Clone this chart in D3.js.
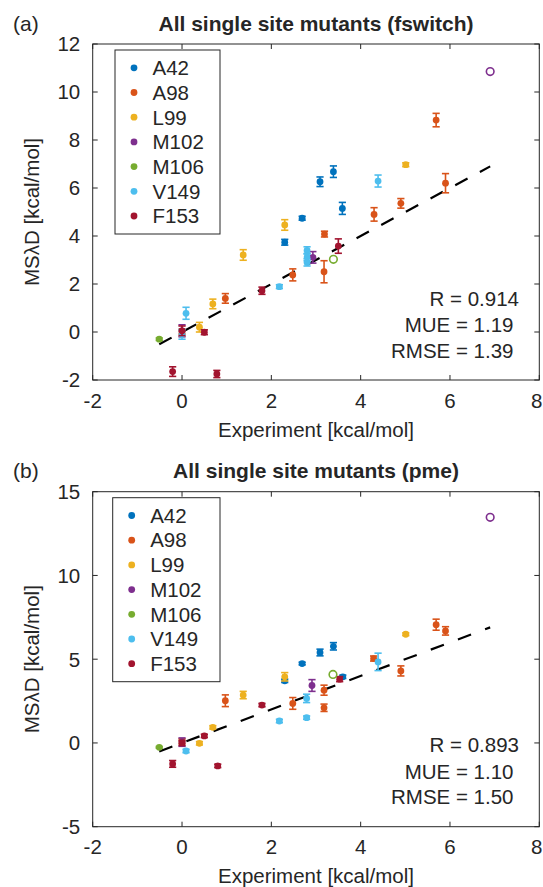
<!DOCTYPE html>
<html>
<head>
<meta charset="utf-8">
<script src="https://cdn.jsdelivr.net/npm/d3@7"></script>
<style>
  body { margin: 0; background: #fff; }
  text { font-family: "Liberation Sans", Arial, Helvetica, sans-serif; fill: #262626; }
</style>
</head>
<body>
<div id="svg"></div>
<script>
// mutantes y colores (orden de la leyenda)
const mutants = ["A42", "A98", "L99", "M102", "M106", "V149", "F153"];
const colors = ["#0072BD", "#D95319", "#EDB120", "#7E2F8E", "#77AC30", "#4DBEEE", "#A2142F"];

const xTicks = [-2, 0, 2, 4, 6, 8];
const yTicksA = [-2, 0, 2, 4, 6, 8, 10, 12];
const yTicksB = [-5, 0, 5, 10, 15];

// panel (a) fswitch: [experimento, MSλD, error]
const aA42 = [[2.30, 3.74, 0.12], [2.69, 4.74, 0.08], [3.09, 6.26, 0.2], [3.39, 6.68, 0.24], [3.59, 5.15, 0.25]];
const aA98 = [[0, 0.02, 0.1], [0.97, 1.40, 0.2], [2.48, 2.38, 0.25], [3.19, 4.08, 0.12], [3.18, 2.51, 0.46],
              [4.30, 4.90, 0.28], [4.90, 5.36, 0.2], [5.69, 8.83, 0.28], [5.90, 6.20, 0.4]];
const aL99 = [[0.39, 0.20, 0.2], [0.69, 1.17, 0.2], [1.37, 3.21, 0.22], [2.30, 4.46, 0.22], [5.01, 6.97, 0.08]];
const aM102 = [[0, 0.05, 0.25], [2.93, 3.11, 0.24]];
const aM106 = [[-0.51, -0.30, 0.05]];
const aV149 = [[0, -0.1, 0.2], [0.09, 0.78, 0.25], [2.18, 1.89, 0.08], [2.80, 3.40, 0.15], [2.80, 3.12, 0.15],
               [2.80, 2.90, 0.15], [4.39, 6.29, 0.25]];
const aF153 = [[-0.21, -1.65, 0.2], [0, 0.05, 0.2], [0.50, -0.01, 0.1], [0.78, -1.75, 0.15], [1.79, 1.72, 0.15], [3.50, 3.58, 0.3]];
// puntos abiertos (sin barra de error): [experimento, MSλD, indice mutante]
const aOpen = [[6.90, 10.85, 3], [3.39, 3.03, 4]];
const statsA = ["R = 0.914", "MUE = 1.19", "RMSE = 1.39"];

// panel (b) pme
const bA42 = [[2.30, 3.71, 0.1], [2.69, 4.74, 0.08], [3.09, 5.40, 0.2], [3.39, 5.77, 0.22], [3.60, 3.95, 0.1]];
const bA98 = [[0, 0.1, 0.15], [0.97, 2.52, 0.35], [2.48, 2.36, 0.35], [3.18, 3.15, 0.3], [3.18, 2.10, 0.22],
              [4.29, 5.04, 0.15], [4.90, 4.30, 0.3], [5.69, 7.06, 0.33], [5.90, 6.69, 0.25]];
const bL99 = [[0.39, -0.02, 0.1], [0.69, 0.93, 0.1], [1.37, 2.86, 0.22], [2.30, 3.95, 0.25], [5.01, 6.49, 0.08]];
const bM102 = [[0, 0.05, 0.25], [2.91, 3.43, 0.35]];
const bM106 = [[-0.51, -0.26, 0.05]];
const bV149 = [[0.09, -0.48, 0.1], [2.18, 1.31, 0.1], [2.79, 2.66, 0.25], [2.79, 1.51, 0.1], [4.39, 4.84, 0.52]];
const bF153 = [[-0.21, -1.25, 0.2], [0, 0.0, 0.15], [0.50, 0.42, 0.1], [0.80, -1.37, 0.1], [1.79, 2.26, 0.1], [3.53, 3.81, 0.15]];
const bOpen = [[6.90, 13.47, 3], [3.38, 4.09, 4]];
const statsB = ["R = 0.893", "MUE = 1.10", "RMSE = 1.50"];

// linea y = x
const identity = [-0.51, 6.9];

const width = 543;
const height = 887;
const axisColor = "#262626";
const fs = 20.5;

const svg = d3.select("#svg").append("svg")
    .attr("width", width)
    .attr("height", height);

const panels = [
    { label: "(a)", title: "All single site mutants (fswitch)", top: 44, bottom: 380, yDomain: [-2, 12], yTicks: yTicksA,
      series: [aA42, aA98, aL99, aM102, aM106, aV149, aF153], open: aOpen, stats: statsA, legendX: 115, dash: "14,14" },
    { label: "(b)", title: "All single site mutants (pme)", top: 491.7, bottom: 826.7, yDomain: [-5, 15], yTicks: yTicksB,
      series: [bA42, bA98, bL99, bM102, bM106, bV149, bF153], open: bOpen, stats: statsB, legendX: 112.7, dash: "14,15" }
];

const left = 92.7, right = 539.3;
const x = d3.scaleLinear().domain([-2, 8]).range([left, right]);

panels.forEach((p) => {
    const y = d3.scaleLinear().domain(p.yDomain).range([p.bottom, p.top]);
    const g = svg.append("g");
    const tick = 5;

    // caja del eje
    g.append("rect")
        .attr("x", left).attr("y", p.top)
        .attr("width", right - left).attr("height", p.bottom - p.top)
        .attr("fill", "none").attr("stroke", axisColor).attr("stroke-width", 1);

    // ticks hacia dentro en los cuatro lados
    xTicks.forEach((t) => {
        g.append("line").attr("x1", x(t)).attr("x2", x(t)).attr("y1", p.bottom).attr("y2", p.bottom - tick)
            .attr("stroke", axisColor);
        g.append("line").attr("x1", x(t)).attr("x2", x(t)).attr("y1", p.top).attr("y2", p.top + tick)
            .attr("stroke", axisColor);
        // el ultimo numero queda pegado al borde
        g.append("text").attr("x", Math.min(x(t), width - 6.2)).attr("y", p.bottom + 27.5)
            .attr("text-anchor", "middle").attr("font-size", fs).text(t);
    });
    p.yTicks.forEach((t) => {
        g.append("line").attr("x1", left).attr("x2", left + tick).attr("y1", y(t)).attr("y2", y(t))
            .attr("stroke", axisColor);
        g.append("line").attr("x1", right).attr("x2", right - tick).attr("y1", y(t)).attr("y2", y(t))
            .attr("stroke", axisColor);
        g.append("text").attr("x", left - 12.5).attr("y", y(t)).attr("dy", "0.36em")
            .attr("text-anchor", "end").attr("font-size", fs).text(t);
    });

    // titulos y etiquetas
    g.append("text").attr("x", (left + right) / 2).attr("y", p.top - 13.5)
        .attr("text-anchor", "middle").attr("font-size", 21).attr("font-weight", "bold").text(p.title);
    g.append("text").attr("x", 13).attr("y", p.top - 13.5).attr("font-size", 21).text(p.label);
    g.append("text").attr("x", (left + right) / 2).attr("y", p.bottom + 56.5)
        .attr("text-anchor", "middle").attr("font-size", fs).text("Experiment [kcal/mol]");
    g.append("text")
        .attr("transform", `translate(39,${(p.top + p.bottom) / 2}) rotate(-90)`)
        .attr("text-anchor", "middle").attr("font-size", fs).text("MSλD [kcal/mol]");

    // linea discontinua y = x
    g.append("line")
        .attr("x1", x(identity[0])).attr("y1", y(identity[0]))
        .attr("x2", x(identity[1])).attr("y2", y(identity[1]))
        .attr("stroke", "#000").attr("stroke-width", 2.2).attr("stroke-dasharray", p.dash);

    // series con barras de error
    p.series.forEach((pts, i) => {
        const sg = g.append("g").attr("stroke", colors[i]).attr("fill", colors[i]);
        pts.forEach((d) => {
            const cx = x(d[0]);
            const y0 = y(d[1] - d[2]), y1 = y(d[1] + d[2]);
            sg.append("line").attr("x1", cx).attr("x2", cx).attr("y1", y0).attr("y2", y1).attr("stroke-width", 1.6);
            sg.append("line").attr("x1", cx - 3.6).attr("x2", cx + 3.6).attr("y1", y0).attr("y2", y0).attr("stroke-width", 1.6);
            sg.append("line").attr("x1", cx - 3.6).attr("x2", cx + 3.6).attr("y1", y1).attr("y2", y1).attr("stroke-width", 1.6);
            sg.append("circle").attr("cx", cx).attr("cy", y(d[1])).attr("r", 3.4).attr("stroke", "none");
        });
    });

    // puntos abiertos
    g.selectAll("circle.open").data(p.open).join("circle")
        .attr("class", "open")
        .attr("cx", (d) => x(d[0])).attr("cy", (d) => y(d[1])).attr("r", 3.8)
        .attr("fill", "none").attr("stroke", (d) => colors[d[2]]).attr("stroke-width", 1.6);

    // leyenda
    const lg = g.append("g").attr("transform", `translate(${p.legendX},${p.top + 6})`);
    lg.append("rect").attr("width", 220 - p.legendX).attr("height", 184)
        .attr("fill", "#fff").attr("stroke", axisColor).attr("stroke-width", 1);
    mutants.forEach((m, i) => {
        const cy = 17.8 + i * 24.7;
        lg.append("circle").attr("cx", 19).attr("cy", cy).attr("r", 3.4).attr("fill", colors[i]);
        lg.append("text").attr("x", 37.5).attr("y", cy + 7.3).attr("font-size", fs).text(m);
    });

    // estadisticas
    const ends = [519, 513.5, 513.5];
    const offs = [74.4, 48.2, 22.3];
    p.stats.forEach((s, i) => {
        g.append("text").attr("x", ends[i]).attr("y", p.bottom - offs[i])
            .attr("text-anchor", "end").attr("font-size", fs).text(s);
    });
});
</script>
</body>
</html>
